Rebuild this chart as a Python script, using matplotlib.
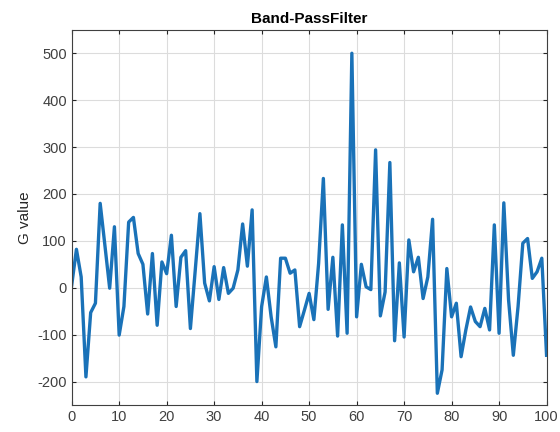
import numpy as np
import matplotlib
matplotlib.use("Agg")
import matplotlib.pyplot as plt

plt.rcParams['font.family'] = ['Liberation Sans', 'DejaVu Sans']
plt.rcParams['axes.unicode_minus'] = False

# sample index and filtered G values
n = list(range(0, 101))
g = [5, 82, 23, -190, -53, -33, 180, 90, -1, 130,
     -101, -40, 140, 150, 73, 50, -56, 73, -80, 55,
     30, 112, -40, 65, 79, -87, 35, 158, 10, -28,
     45, -25, 43, -12, -1, 38, 136, 46, 166, -200,
     -40, 23, -62, -126, 63, 63, 31, 38, -83, -48,
     -12, -68, 52, 233, -46, 65, -103, 134, -97, 500,
     -62, 50, 2, -4, 294, -60, -9, 267, -113, 53,
     -105, 102, 34, 65, -23, 23, 146, -225, -175, 41,
     -62, -33, -147, -90, -41, -72, -83, -44, -90, 134,
     -97, 181, -26, -144, -40, 95, 105, 20, 34, 63, -144]

fig = plt.figure(figsize=(5.6, 4.32), dpi=100)
ax = fig.add_axes([0.128, 0.0625, 0.848, 0.8685])

ax.plot(n, g, color='#1a72b8', lw=2.4)

ax.set_xlim(0, 100)
ax.set_ylim(-250, 550)
ax.set_xticks(np.arange(0, 101, 10))
ax.set_yticks(np.arange(-200, 501, 100))
ax.grid(True, color='#dcdcdc', lw=0.8)
ax.set_axisbelow(True)
ax.tick_params(direction='in', top=True, right=True, labelsize=10.5,
               labelcolor='#404040', color='#262626', length=3)
for s in ax.spines.values():
    s.set_color('#404040')
    s.set_linewidth(0.8)

ax.set_ylabel('G value', fontsize=11, color='#262626')
ax.set_title('Band-PassFilter', fontsize=11, fontweight='bold', pad=5)

fig.savefig('out.png', dpi=100)
